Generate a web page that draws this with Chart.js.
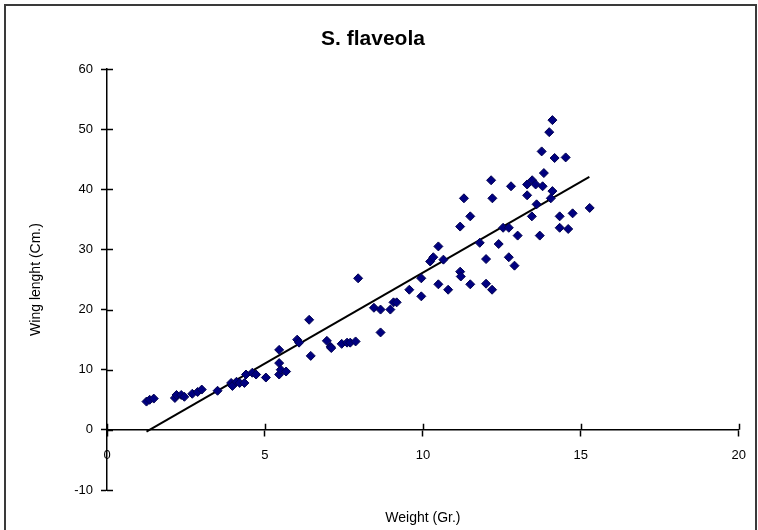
<!DOCTYPE html>
<html>
<head>
<meta charset="utf-8">
<script src="https://cdn.jsdelivr.net/npm/chart.js@4"></script>
<style>
  body { margin: 0; background: #fff; }
  #frame { position: absolute; left: 4px; top: 4px; width: 749px; height: 540px; border: 2px solid #3a3a3a; }
  #myChart { position: absolute; left: 0; top: 0; }
</style>
</head>
<body>
<div id="frame"></div>
<canvas id="myChart" width="758" height="530"></canvas>
<script>
// S. flaveola - weight vs wing length
let weight = [
    1.25, 1.35, 1.48, 2.15, 2.2, 2.35, 2.45, 2.7, 2.87, 3.0,
    3.5, 3.93, 3.97, 4.1, 4.2, 4.35, 4.4, 4.6, 4.72, 5.03,
    5.45, 5.45, 5.45, 5.5, 5.67, 6.02, 6.08, 6.4, 6.45, 6.96,
    7.08, 7.1, 7.43, 7.6, 7.7, 7.87, 7.95, 8.45, 8.66, 8.66,
    8.97, 9.07, 9.17, 9.57, 9.95, 9.95, 10.23, 10.33, 10.49, 10.65,
    10.49, 10.8, 11.18, 11.2, 11.5, 14.1, 14.0, 13.76, 14.17, 14.52,
    13.83, 12.16, 12.79, 13.3, 13.46, 13.57, 13.79, 13.3, 14.1, 14.05,
    11.3, 12.2, 13.6, 11.5, 13.45, 14.33, 14.74, 15.28, 11.18, 12.54,
    12.72, 13.0, 13.7, 14.33, 14.6, 11.8, 12.4, 12.0, 12.72, 12.9,
    12.0, 12.19
]
let wingLength = [
    4.7, 5.0, 5.2, 5.3, 5.8, 5.8, 5.5, 6.0, 6.3, 6.7,
    6.5, 7.8, 7.3, 8.0, 7.8, 7.8, 9.2, 9.5, 9.2, 8.7,
    13.3, 11.1, 9.2, 10.0, 9.7, 15.0, 14.5, 18.3, 12.3, 14.8,
    13.8, 13.6, 14.3, 14.5, 14.5, 14.7, 25.2, 20.3, 20.0, 16.2,
    20.0, 21.2, 21.2, 23.3, 25.2, 22.2, 28.0, 28.7, 30.5, 28.3,
    24.2, 23.3, 26.3, 25.5, 24.2, 51.5, 49.5, 46.3, 45.2, 45.3,
    42.7, 41.5, 40.5, 40.8, 41.5, 40.8, 40.5, 39.0, 39.7, 38.5,
    38.5, 38.5, 37.5, 35.5, 35.5, 35.5, 36.0, 36.9, 33.8, 33.6,
    33.6, 32.3, 32.3, 33.6, 33.4, 31.1, 30.9, 28.4, 28.7, 27.3,
    24.3, 23.3
]

// linear trendline
let trendSlope = 3.02
let trendIntercept = -4.07
let trendRange = [1.25, 15.27]

let xTicks = [0, 5, 10, 15, 20]
let yTicks = [-10, 0, 10, 20, 30, 40, 50, 60]

let chartTitle = 'S. flaveola'
let xTitle = 'Weight (Gr.)'
let yTitle = 'Wing lenght (Cm.)'

let points = weight.map((w, i) => ({ x: w, y: wingLength[i] }))
let trend = trendRange.map(x => ({ x: x, y: trendSlope * x + trendIntercept }))

let fontFamily = '"Liberation Sans", Arial, sans-serif'

// ticks that cross the axis lines + x axis title
let axisExtras = {
    id: 'axisExtras',
    afterDraw(chart) {
        let ctx = chart.ctx
        let xs = chart.scales.x, ys = chart.scales.y
        let x0 = xs.getPixelForValue(0), y0 = ys.getPixelForValue(0)
        ctx.save()
        ctx.strokeStyle = '#000'
        ctx.lineWidth = 1.5
        ctx.beginPath()
        yTicks.forEach(v => {
            let py = Math.round(ys.getPixelForValue(v)) + 0.5
            ctx.moveTo(x0, py); ctx.lineTo(x0 + 6, py)
        })
        xTicks.forEach(v => {
            let px = Math.round(xs.getPixelForValue(v)) + 0.5
            ctx.moveTo(px, y0); ctx.lineTo(px, y0 - 6)
        })
        ctx.stroke()
        ctx.fillStyle = '#000'
        ctx.font = '14px ' + fontFamily
        ctx.textAlign = 'center'
        ctx.textBaseline = 'middle'
        ctx.fillText(xTitle, (chart.chartArea.left + chart.chartArea.right) / 2, 518)
        ctx.restore()
    }
}

let myChart = document.getElementById('myChart').getContext('2d')

let scatterChart = new Chart(myChart, {
    type: 'scatter',
    data: {
        datasets: [{
            label: 'Wing length',
            data: points,
            backgroundColor: '#000080',
            borderColor: '#000050',
            borderWidth: 1,
            pointStyle: 'rectRot',
            pointRadius: 4.5
        }, {
            type: 'line',
            label: 'Trend',
            data: trend,
            borderColor: '#000',
            borderWidth: 2,
            pointRadius: 0,
            fill: false
        }]
    },
    options: {
        responsive: false,
        animation: false,
        layout: { padding: { left: 4, right: 16, top: 0, bottom: 40 } },
        plugins: {
            legend: { display: false },
            tooltip: { enabled: false },
            title: {
                display: true,
                text: chartTitle,
                color: '#000',
                font: { family: fontFamily, size: 21, weight: 'bold', lineHeight: 1.2 },
                padding: { top: 27, bottom: 16.8 }
            }
        },
        scales: {
            x: {
                type: 'linear',
                position: { y: 0 },
                min: 0,
                max: 20,
                afterFit: s => { s.height = 0 },
                afterBuildTicks: s => { s.ticks = xTicks.map(v => ({ value: v })) },
                grid: { display: true, drawOnChartArea: false, drawTicks: true, tickLength: 6, color: '#000', tickWidth: 1.5 },
                border: { display: true, color: '#000', width: 1.5 },
                ticks: { color: '#000', padding: 12, maxRotation: 0, font: { family: fontFamily, size: 13 } }
            },
            y: {
                type: 'linear',
                position: 'left',
                min: -10,
                max: 60,
                afterFit: s => { s.width = 103 },
                afterBuildTicks: s => { s.ticks = yTicks.map(v => ({ value: v })) },
                grid: { display: true, drawOnChartArea: false, drawTicks: true, tickLength: 6, color: '#000', tickWidth: 1.5 },
                border: { display: true, color: '#000', width: 1.5 },
                ticks: { color: '#000', padding: 8, font: { family: fontFamily, size: 13 } },
                title: {
                    display: true,
                    text: yTitle,
                    color: '#000',
                    font: { family: fontFamily, size: 14, lineHeight: 1.2 },
                    padding: { top: 24, bottom: 0 }
                }
            }
        }
    },
    plugins: [axisExtras]
})
</script>
</body>
</html>
